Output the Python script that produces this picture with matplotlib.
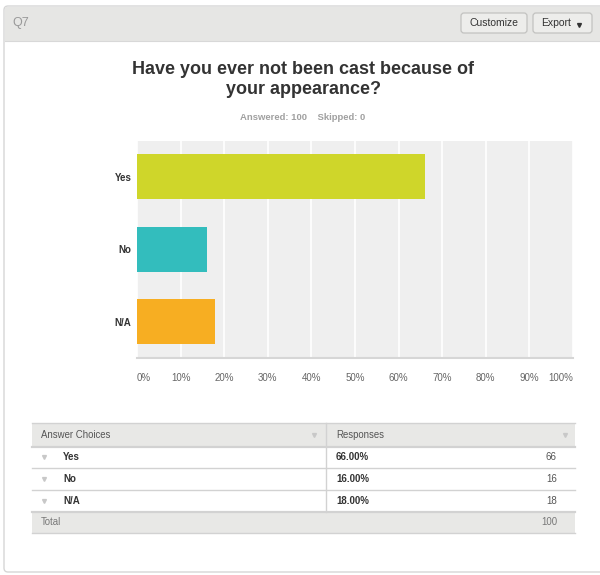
import matplotlib.pyplot as plt
from matplotlib.patches import Rectangle, FancyBboxPatch

plt.rcParams['font.family'] = ['Liberation Sans', 'DejaVu Sans']

question = "Q7"
title_lines = ["Have you ever not been cast because of", "your appearance?"]
answered = 100
skipped = 0
choices = ["Yes", "No", "N/A"]
percents = [66.0, 16.0, 18.0]
counts = [66, 16, 18]
bar_colors = ["#cfd62a", "#33bdbd", "#f7ae22"]
xticks = [0, 10, 20, 30, 40, 50, 60, 70, 80, 90, 100]

W, H = 600, 575
fig = plt.figure(figsize=(W / 100, H / 100), dpi=100)

# full-figure axes in pixel coordinates for the page furniture
bg = fig.add_axes([0, 0, 1, 1])
bg.set_xlim(0, W)
bg.set_ylim(H, 0)
bg.axis("off")

# panel + header
bg.add_patch(FancyBboxPatch((4, 6), 610, 566, boxstyle="round,pad=0,rounding_size=4",
                            fc="white", ec="#d6d6d6", lw=1))
bg.add_patch(Rectangle((4.5, 6.5), 600, 34.5, fc="#e6e6e4", ec="none"))
bg.plot([4.5, 600], [41, 41], color="#d8d8d8", lw=0.8)
bg.text(12, 23, question, fontsize=9, color="#999999", va="center")

# buttons
for x0, w in [(461, 66), (533, 59)]:
    bg.add_patch(FancyBboxPatch((x0, 13), w, 20, boxstyle="round,pad=0,rounding_size=3",
                                fc="#ededeb", ec="#c2c2c0", lw=0.9))
bg.text(494, 23.5, "Customize", fontsize=7.5, color="#333333", ha="center", va="center")
bg.text(541, 23.5, "Export", fontsize=7.5, color="#333333", ha="left", va="center")
bg.plot([579], [24.5], marker="v", ms=2.8, color="#333333")

# title
bg.text(303, 70, title_lines[0], fontsize=13, fontweight="bold", color="#333333",
        ha="center", va="center")
bg.text(303, 89.5, title_lines[1], fontsize=13, fontweight="bold", color="#333333",
        ha="center", va="center")
bg.text(303, 117, f"Answered: {answered}    Skipped: {skipped}", fontsize=6.8,
        fontweight="bold", color="#a0a0a0", ha="center", va="center")

# bar chart
left, right, top, bottom = 137, 573, 140.5, 358
ax = fig.add_axes([left / W, (H - bottom) / H, (right - left) / W, (bottom - top) / H])
ax.set_facecolor("#efefef")
ypos = list(range(len(choices)))
ax.barh(ypos, percents, height=0.62, color=bar_colors, zorder=3)
ax.set_xlim(0, 100)
ax.set_ylim(len(choices) - 0.5, -0.5)
ax.set_yticks(ypos)
ax.set_yticklabels(choices, fontsize=7, fontweight="bold", color="#333333")
ax.set_xticks(xticks)
labels = ax.set_xticklabels([f"{t}%" for t in xticks], fontsize=7, color="#666666")
labels[0].set_ha("left")
labels[-1].set_ha("right")
ax.tick_params(length=0)
ax.tick_params(axis="x", pad=11)
ax.tick_params(axis="y", pad=4)
ax.grid(axis="x", color="white", lw=1.2, zorder=1)
for s in ["top", "right", "left"]:
    ax.spines[s].set_visible(False)
ax.spines["bottom"].set_color("#d6d6d6")
ax.spines["bottom"].set_linewidth(1.5)

# summary table
tl, tr, colx = 31.5, 575, 326
row_edges = [423, 446.5, 468, 490, 511.5, 533]
bg.add_patch(Rectangle((tl, row_edges[0]), tr - tl, row_edges[1] - row_edges[0],
                       fc="#e8e8e6", ec="none"))
bg.add_patch(Rectangle((tl, row_edges[4]), tr - tl, row_edges[5] - row_edges[4],
                       fc="#e8e8e6", ec="none"))
for i, y in enumerate(row_edges):
    lw = 1.6 if i in (1, 4) else 1.0
    bg.plot([tl, tr], [y, y], color="#d2d2d2", lw=lw)
bg.plot([colx, colx], [row_edges[0], row_edges[4]], color="#d2d2d2", lw=1)

tri = dict(marker="v", ms=2.8, color="#c8c8c8", ls="none")
hy = (row_edges[0] + row_edges[1]) / 2
bg.text(41, hy, "Answer Choices", fontsize=6.9, color="#555555", va="center")
bg.text(336, hy, "Responses", fontsize=6.9, color="#555555", va="center")
bg.plot([314, 565], [hy, hy], **tri)

for i, (c, p, n) in enumerate(zip(choices, percents, counts)):
    ry = (row_edges[i + 1] + row_edges[i + 2]) / 2
    bg.plot([44], [ry], **tri)
    bg.text(63, ry, c, fontsize=7, fontweight="bold", color="#333333", va="center")
    bg.text(336, ry, f"{p:.2f}%", fontsize=7, fontweight="bold", color="#333333", va="center")
    bg.text(557, ry, str(n), fontsize=7, color="#555555", va="center", ha="right")

ty = (row_edges[4] + row_edges[5]) / 2
bg.text(41, ty, "Total", fontsize=6.9, color="#777777", va="center")
bg.text(557, ty, str(sum(counts)), fontsize=6.9, color="#777777", va="center", ha="right")

fig.savefig("out.png", dpi=100)
